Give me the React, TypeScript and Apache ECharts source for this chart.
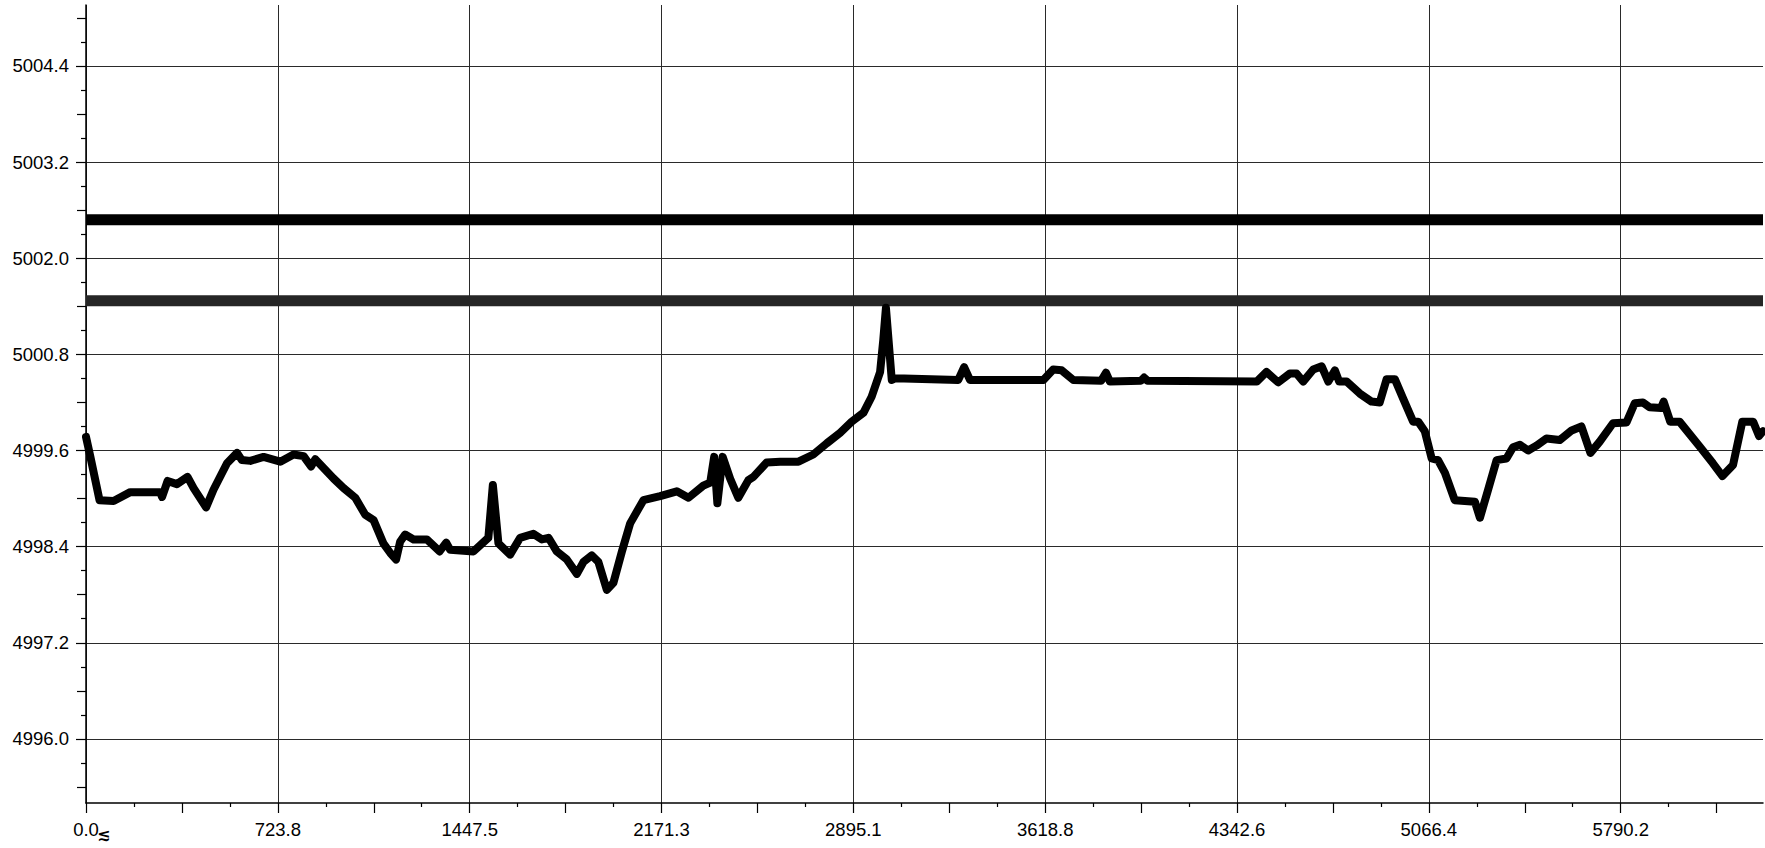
import React, { useEffect, useRef } from "react";
import * as echarts from "echarts";

// ---- data ----
const timeValues = [
  0, 16, 51, 104, 167, 280, 287, 308, 343, 383, 406, 453, 481, 532, 570, 588, 620, 670, 733, 783,
  821, 849, 865, 934, 972, 1016, 1053, 1085, 1122, 1148, 1170, 1185, 1204, 1236, 1286, 1334, 1359, 1374, 1462, 1518,
  1535, 1556, 1600, 1638, 1688, 1720, 1745, 1776, 1814, 1852, 1877, 1908, 1933, 1965, 1990, 2022, 2053, 2103, 2166, 2229,
  2273, 2329, 2355, 2370, 2382, 2402, 2430, 2461, 2499, 2518, 2568, 2619, 2688, 2744, 2795, 2845, 2889, 2933, 2964, 2996,
  3008, 3018, 3040, 3052, 3291, 3313, 3335, 3612, 3649, 3681, 3725, 3830, 3848, 3863, 3980, 3992, 4005, 4417, 4454, 4498,
  4542, 4567, 4592, 4630, 4662, 4687, 4712, 4728, 4756, 4806, 4850, 4881, 4907, 4938, 4969, 5007, 5026, 5051, 5077, 5101,
  5127, 5164, 5240, 5259, 5290, 5322, 5359, 5384, 5410, 5441, 5472, 5510, 5560, 5605, 5642, 5676, 5711, 5761, 5812, 5843,
  5874, 5899, 5943, 5952, 5977, 6012, 6088, 6138, 6174, 6214, 6249, 6290, 6312, 6327,
];
const voltageValues = [
  4999.77, 4999.53, 4998.98, 4998.97, 4999.08, 4999.08, 4999.02, 4999.22, 4999.18, 4999.27, 4999.13, 4998.89, 4999.11, 4999.44, 4999.57, 4999.48, 4999.47, 4999.52, 4999.46, 4999.55,
  4999.53, 4999.40, 4999.49, 4999.25, 4999.13, 4999.01, 4998.80, 4998.73, 4998.44, 4998.32, 4998.24, 4998.46, 4998.55, 4998.49, 4998.49, 4998.34, 4998.45, 4998.36, 4998.34, 4998.51,
  4999.17, 4998.44, 4998.30, 4998.51, 4998.56, 4998.49, 4998.51, 4998.34, 4998.24, 4998.06, 4998.21, 4998.29, 4998.21, 4997.86, 4997.95, 4998.34, 4998.69, 4998.98, 4999.03, 4999.09,
  4999.01, 4999.16, 4999.20, 4999.52, 4998.94, 4999.52, 4999.25, 4999.01, 4999.23, 4999.27, 4999.45, 4999.46, 4999.46, 4999.55, 4999.69, 4999.82, 4999.96, 5000.07, 5000.27, 5000.58,
  5000.98, 5001.38, 5000.48, 5000.50, 5000.48, 5000.64, 5000.48, 5000.48, 5000.61, 5000.60, 5000.48, 5000.47, 5000.57, 5000.46, 5000.47, 5000.51, 5000.47, 5000.46, 5000.58, 5000.45,
  5000.56, 5000.56, 5000.46, 5000.61, 5000.65, 5000.46, 5000.60, 5000.46, 5000.46, 5000.31, 5000.21, 5000.20, 5000.49, 5000.49, 5000.25, 4999.96, 4999.96, 4999.84, 4999.50, 4999.48,
  4999.32, 4998.98, 4998.96, 4998.76, 4999.11, 4999.48, 4999.50, 4999.64, 4999.67, 4999.60, 4999.66, 4999.75, 4999.73, 4999.85, 4999.90, 4999.57, 4999.71, 4999.94, 4999.95, 5000.19,
  5000.20, 5000.14, 5000.13, 5000.21, 4999.96, 4999.96, 4999.65, 4999.44, 4999.28, 4999.42, 4999.96, 4999.96, 4999.78, 4999.84,
];
const upperLimit = 5002.48;
const lowerLimit = 5001.47;

const xMajorTicks = [0, 723.77, 1447.54, 2171.31, 2895.08, 3618.85, 4342.62, 5066.39, 5790.16];
const xMajorLabels = ["0.0", "723.8", "1447.5", "2171.3", "2895.1", "3618.8", "4342.6", "5066.4", "5790.2"];
const xHalfTicks = [361.89, 1085.66, 1809.43, 2533.2, 3256.97, 3980.74, 4704.51, 5428.28, 6152.05];
const xQuarterTicks = [
  180.94, 542.83, 904.71, 1266.6, 1628.48, 1990.37, 2352.25, 2714.14, 3076.02, 3437.91, 3799.79,
  4161.68, 4523.56, 4885.45, 5247.33, 5609.22, 5971.1,
];
const yMajorTicks = [4996.0, 4997.2, 4998.4, 4999.6, 5000.8, 5002.0, 5003.2, 5004.4];
const yHalfTicks = [4995.4, 4996.6, 4997.8, 4999.0, 5000.2, 5001.4, 5002.6, 5003.8, 5005.0];
const yQuarterTicks = [
  4995.7, 4996.3, 4996.9, 4997.5, 4998.1, 4998.7, 4999.3, 4999.9, 5000.5, 5001.1, 5001.7,
  5002.3, 5002.9, 5003.5, 5004.1, 5004.7,
];
const xRange = [0, 6327];
const yRange = [4995.2, 5005.16];
const unitMark = "≲";

export default function App() {
  const ref = useRef<HTMLDivElement>(null);

  useEffect(() => {
    if (!ref.current) return;
    const chart = echarts.init(ref.current, null, { renderer: "svg" });
    const labelFont = {
      fontFamily: "'Liberation Sans', Arial, sans-serif",
      fontSize: 18.5,
      color: "#000",
    };
    const tickStyle = { color: "#000", width: 1.2 };

    const extraX = (ticks: number[], len: number) => ({
      type: "value",
      position: "bottom",
      min: xRange[0],
      max: xRange[1],
      axisLine: { show: false, onZero: false },
      axisTick: { show: true, length: len, customValues: ticks, lineStyle: tickStyle },
      axisLabel: { show: false },
      splitLine: { show: false },
    });
    const extraY = (ticks: number[], len: number) => ({
      type: "value",
      position: "left",
      min: yRange[0],
      max: yRange[1],
      axisLine: { show: false, onZero: false },
      axisTick: { show: true, length: len, customValues: ticks, lineStyle: tickStyle },
      axisLabel: { show: false },
      splitLine: { show: false },
    });

    chart.setOption({
      animation: false,
      backgroundColor: "#fff",
      grid: { left: 86, right: 2, top: 5, bottom: 45, outerBoundsMode: "none", containLabel: false },
      xAxis: [
        {
          type: "value",
          position: "bottom",
          min: xRange[0],
          max: xRange[1],
          axisLine: { show: true, onZero: false, lineStyle: { color: "#000", width: 1.5 } },
          axisTick: { show: true, length: 10, customValues: xMajorTicks, lineStyle: tickStyle },
          axisLabel: {
            show: true,
            customValues: xMajorTicks,
            margin: 17,
            ...labelFont,
            formatter: (v: number) => {
              let best = 0;
              xMajorTicks.forEach((t, i) => {
                if (Math.abs(t - v) < Math.abs(xMajorTicks[best] - v)) best = i;
              });
              return xMajorLabels[best];
            },
          },
          splitLine: { show: true, lineStyle: { color: "#2a2a2a", width: 1 } },
        },
        extraX(xHalfTicks, 10),
        extraX(xQuarterTicks, 4),
      ],
      yAxis: [
        {
          type: "value",
          position: "left",
          min: yRange[0],
          max: yRange[1],
          axisLine: { show: true, onZero: false, lineStyle: { color: "#000", width: 1.5 } },
          axisTick: { show: true, length: 10, customValues: yMajorTicks, lineStyle: tickStyle },
          axisLabel: {
            show: true,
            customValues: yMajorTicks,
            margin: 17,
            ...labelFont,
            formatter: (v: number) => v.toFixed(1),
          },
          splitLine: { show: true, lineStyle: { color: "#2a2a2a", width: 1 } },
        },
        extraY(yHalfTicks, 9),
        extraY(yQuarterTicks, 5),
      ],
      series: [
        {
          type: "line",
          xAxisIndex: 0,
          yAxisIndex: 0,
          symbol: "none",
          silent: true,
          data: [
            [xRange[0], upperLimit],
            [xRange[1], upperLimit],
          ],
          lineStyle: { color: "#000", width: 11 },
          z: 3,
        },
        {
          type: "line",
          xAxisIndex: 0,
          yAxisIndex: 0,
          symbol: "none",
          silent: true,
          data: [
            [xRange[0], lowerLimit],
            [xRange[1], lowerLimit],
          ],
          lineStyle: { color: "#262626", width: 11 },
          z: 3,
        },
        {
          type: "line",
          xAxisIndex: 0,
          yAxisIndex: 0,
          symbol: "none",
          silent: true,
          data: timeValues.map((t, i) => [t, voltageValues[i]]),
          lineStyle: { color: "#000", width: 8, join: "round", cap: "round" },
          z: 4,
        },
      ],
      graphic: [
        {
          type: "text",
          left: 97,
          top: 826,
          style: {
            text: unitMark,
            fontFamily: "'DejaVu Sans', sans-serif",
            fontSize: 16,
            fontWeight: "bold",
            fill: "#000",
          },
        },
      ],
    });

    return () => {
      chart.dispose();
    };
  }, []);

  return (
    <div
      ref={ref}
      style={{ position: "fixed", left: 0, top: 0, width: 1765, height: 848, background: "#fff" }}
    />
  );
}
